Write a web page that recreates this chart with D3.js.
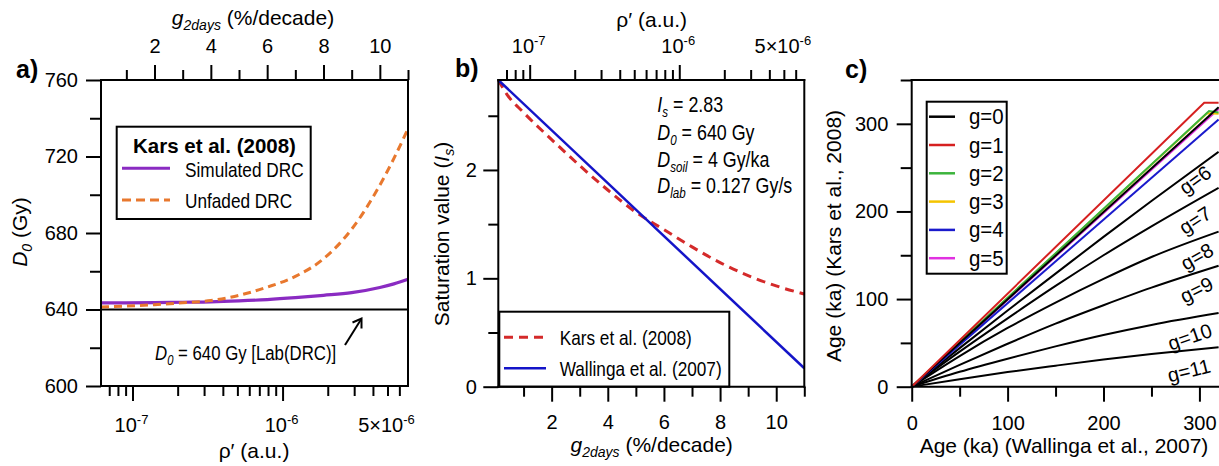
<!DOCTYPE html>
<html><head><meta charset="utf-8">
<script src="https://cdn.jsdelivr.net/npm/d3@7"></script>
<style>
body{margin:0;background:#fff}
svg{display:block}
text{font-family:"Liberation Sans",Arial,Helvetica,sans-serif;fill:#000}
</style>
</head><body>
<svg id="chart" width="1219" height="466"></svg>
<script>
// ---------------- DATA ----------------
const gDomain = [0.1, 11];
const gMajor = [2, 4, 6, 8, 10];
const gMinor = [1, 3, 5, 7, 9, 11];
const rhoDomain = [6.17e-8, 6.85e-6];
const rhoMajor = [1e-7, 1e-6];
const rhoMinor = [7e-8, 8e-8, 9e-8, 2e-7, 3e-7, 4e-7, 5e-7, 6e-7, 7e-7, 8e-7, 9e-7, 2e-6, 3e-6, 4e-6, 5e-6, 6e-6];
const rhoLabelValues = [1e-7, 1e-6, 5e-6];
const rhoLabelBase = ["10", "10", "5\u00D710"];
const rhoLabelExp = ["-7", "-6", "-6"];

// panel a
const aYDomain = [600, 760];
const aYMajor = [600, 640, 680, 720, 760];
const aYMinor = [620, 660, 700, 740];
const aG = [0.1, 1, 2, 3, 4, 5, 6, 7, 8, 9, 10, 10.5, 11];
const aSimulated = [643.5, 643.5, 643.6, 643.8, 644.0, 644.5, 645.2, 646.2, 647.4, 648.8, 651.5, 653.4, 655.8];
const aUnfaded = [641.3, 641.8, 642.5, 643.5, 644.7, 647.4, 651.7, 657.3, 666.5, 682, 705, 719, 734.5];
const labD0 = 640;

// panel b
const bYDomain = [0, 2.83];
const bYMajor = [0, 1, 2];
const bYMinor = [0.5, 1.5, 2.5];
const bG = [0.1, 0.4, 1, 2, 3, 4, 5, 6, 7, 8, 9, 10, 11];
const bKars = [2.83, 2.70, 2.53, 2.28, 2.04, 1.815, 1.61, 1.45, 1.29, 1.145, 1.025, 0.93, 0.855];
const bWallG = [0.1, 11];
const bWallinga = [2.83, 0.17];

// panel c
const cXDomain = [0, 320];
const cYDomain = [0, 350];
const cMajor = [0, 100, 200, 300];
const cXMinor = [50, 150, 250];
const cYMinor = [50, 150, 250, 350];
const cAgeW = [0, 50, 100, 150, 200, 250, 320];
const cG6 = [0, 44, 87, 129, 171, 212, 268];
const cG7 = [0, 40, 78, 115, 150, 183, 227];
const cG8 = [0, 35, 67, 96, 123, 148, 177];
const cG9 = [0, 25, 49, 72, 93, 113, 138];
const cG10 = [0, 17, 32, 46, 59, 70.5, 84];
const cG11 = [0, 8.6, 16.7, 24, 31, 37.3, 45];
const cG0X = [0, 320], cG0 = [0, 319];
const cG1X = [0, 305, 320], cG1 = [0, 324, 324];
const cG2X = [0, 310, 320], cG2 = [0, 314.6, 313];
const cG3X = [0, 308, 320], cG3 = [0, 312, 311.5];
const cG4X = [0, 320], cG4 = [0, 305];
const cG5X = [0, 320], cG5 = [0, 317];
const cLegendNames = ["g=0", "g=1", "g=2", "g=3", "g=4", "g=5"];
const cLegendColors = ["#000000", "#d62020", "#3cb43c", "#f5c400", "#1a1acc", "#e030e0"];
const cLabelNames = ["g=6", "g=7", "g=8", "g=9", "g=10", "g=11"];
const cLabelX = [295.5, 295.5, 297.5, 297, 290, 289];
const cLabelY = [236, 190, 148.5, 110.5, 57, 18.5];
const cLabelAngle = [-36, -33, -30, -27, -19, -14];

// ---------------- LAYOUT ----------------
const FONT = '"Liberation Sans", Arial, Helvetica, sans-serif';
const A = {x0: 101, x1: 408, y0: 80, y1: 386};
const B = {x0: 498.3, x1: 804.3, y0: 80, y1: 386.7};
const C = {x0: 911.7, x1: 1218.6, y0: 80, y1: 386.7};

const svg = d3.select("#chart");
svg.append("rect").attr("width", 1219).attr("height", 466).attr("fill", "#fff");

function rich(parent, x, y, parts, o = {}) {
  let tr = `translate(${x},${y})`;
  if (o.rotate) tr += ` rotate(${o.rotate})`;
  if (o.sx) tr += ` scale(${o.sx},1)`;
  const g = parent.append("g").attr("transform", tr);
  const size = o.size || 21;
  const t = g.append("text").attr("x", 0).attr("y", 0)
    .attr("text-anchor", o.anchor || "start")
    .style("font-size", size + "px");
  if (o.bold) t.style("font-weight", "bold");
  if (o.baseline) t.attr("dominant-baseline", o.baseline);
  let shift = 0;
  parts.forEach(p => {
    const ts = t.append("tspan").text(p.t);
    const target = p.sub ? (o.subDy || 5) : p.sup ? -(o.supDy || 8) : 0;
    ts.attr("dy", target - shift);
    shift = target;
    if (p.sub || p.sup) ts.style("font-size", (p.size || Math.round(size * 0.64)) + "px");
    if (p.i) ts.style("font-style", "italic");
  });
  return t;
}

function drawAxis(parent, transform, axisFn, scale, vals, size, labels, pad) {
  const ax = axisFn(scale).tickValues(vals).tickSize(size).tickPadding(pad || 8)
    .tickFormat(labels ? d3.format("") : () => "");
  const g = parent.append("g").attr("transform", transform).call(ax);
  g.attr("font-family", null).attr("font-size", null);
  g.select(".domain").remove();
  g.selectAll(".tick line").attr("stroke", "#000").attr("stroke-width", 2);
  g.selectAll(".tick text").style("font-size", "20px").style("font-family", FONT).attr("fill", "#000");
  return g;
}

function rhoLabels(parent, scale, yBase) {
  rhoLabelValues.forEach((v, i) => {
    rich(parent, scale(v) - 1, yBase, [{t: rhoLabelBase[i]}, {t: rhoLabelExp[i], sup: true, size: 13}],
      {size: 20, anchor: "middle", supDy: 8});
  });
}

function frame(p, sides) {
  const g = svg.append("g").attr("stroke", "#000").attr("stroke-width", 2).attr("fill", "none");
  if (sides.includes("t")) g.append("line").attr("x1", p.x0 - 1).attr("x2", p.x1 + 1).attr("y1", p.y0).attr("y2", p.y0);
  if (sides.includes("b")) g.append("line").attr("x1", p.x0 - 1).attr("x2", p.x1 + 1).attr("y1", p.y1).attr("y2", p.y1);
  if (sides.includes("l")) g.append("line").attr("x1", p.x0).attr("x2", p.x0).attr("y1", p.y0 - 1).attr("y2", p.y1 + 1);
  if (sides.includes("r")) g.append("line").attr("x1", p.x1).attr("x2", p.x1).attr("y1", p.y0 - 1).attr("y2", p.y1 + 1);
}

// ================= PANEL A =================
{
  const xg = d3.scaleLinear().domain(gDomain).range([A.x0, A.x1]);
  const xr = d3.scaleLog().domain(rhoDomain).range([A.x0, A.x1]);
  const y = d3.scaleLinear().domain(aYDomain).range([A.y1, A.y0]);
  const pa = svg.append("g");

  pa.append("line").attr("x1", A.x0).attr("x2", A.x1).attr("y1", y(labD0)).attr("y2", y(labD0))
    .attr("stroke", "#000").attr("stroke-width", 2);

  const line = d3.line().x(d => xg(d[0])).y(d => y(d[1])).curve(d3.curveMonotoneX);
  pa.append("path").datum(aG.map((g, i) => [g, aSimulated[i]])).attr("d", line)
    .attr("fill", "none").attr("stroke", "#8a2bc2").attr("stroke-width", 3.2);
  pa.append("path").datum(aG.map((g, i) => [g, aUnfaded[i]])).attr("d", line)
    .attr("fill", "none").attr("stroke", "#e8782e").attr("stroke-width", 3).attr("stroke-dasharray", "8,5");

  frame(A, "tblr");
  drawAxis(svg, `translate(0,${A.y0})`, d3.axisTop, xg, gMinor, 10, false);
  drawAxis(svg, `translate(0,${A.y0})`, d3.axisTop, xg, gMajor, 15, true, 12);
  drawAxis(svg, `translate(0,${A.y1})`, d3.axisBottom, xr, rhoMinor, 10, false);
  drawAxis(svg, `translate(0,${A.y1})`, d3.axisBottom, xr, rhoMajor, 15, false);
  rhoLabels(svg, xr, 431.5);
  drawAxis(svg, `translate(${A.x0},0)`, d3.axisLeft, y, aYMinor, 11, false);
  drawAxis(svg, `translate(${A.x0},0)`, d3.axisLeft, y, aYMajor, 15, true, 8);

  rich(svg, 253, 25, [{t: "g", i: true}, {t: "2days", i: true, sub: true, size: 14}, {t: " (%/decade)"}], {anchor: "middle", size: 21, subDy: 5});
  rich(svg, 254, 458, [{t: "\u03C1\u2032 (a.u.)"}], {anchor: "middle", size: 21});
  rich(svg, 27, 232, [{t: "D", i: true}, {t: "0", i: true, sub: true, size: 14}, {t: " (Gy)"}], {anchor: "middle", size: 21, rotate: -90});
  rich(svg, 16, 78, [{t: "a)"}], {size: 25, bold: true});

  svg.append("rect").attr("x", 116.7).attr("y", 126.7).attr("width", 194).attr("height", 92.3)
    .attr("fill", "#fff").attr("stroke", "#000").attr("stroke-width", 2);
  rich(svg, 133, 152.5, [{t: "Kars et al. (2008)"}], {size: 20.5, bold: true});
  svg.append("line").attr("x1", 122).attr("x2", 170).attr("y1", 168.3).attr("y2", 168.3)
    .attr("stroke", "#8a2bc2").attr("stroke-width", 3);
  rich(svg, 185, 176.5, [{t: "Simulated DRC"}], {size: 21, sx: 0.82});
  svg.append("line").attr("x1", 122).attr("x2", 170).attr("y1", 200).attr("y2", 200)
    .attr("stroke", "#e8782e").attr("stroke-width", 3).attr("stroke-dasharray", "9,5");
  rich(svg, 185, 208.3, [{t: "Unfaded DRC"}], {size: 21, sx: 0.82});

  rich(svg, 155, 360, [{t: "D", i: true}, {t: "0", i: true, sub: true, size: 14}, {t: " = 640 Gy [Lab(DRC)]"}], {size: 21, sx: 0.8});
  svg.append("line").attr("x1", 345).attr("y1", 345).attr("x2", 361).attr("y2", 319.5)
    .attr("stroke", "#000").attr("stroke-width", 2);
  svg.append("path").attr("d", "M352.5,322.5 L361.5,318.5 L361.5,328.5")
    .attr("fill", "none").attr("stroke", "#000").attr("stroke-width", 2);
}

// ================= PANEL B =================
{
  const xg = d3.scaleLinear().domain(gDomain).range([B.x0, B.x1]);
  const xr = d3.scaleLog().domain(rhoDomain).range([B.x0, B.x1]);
  const y = d3.scaleLinear().domain(bYDomain).range([B.y1, B.y0]);
  const pb = svg.append("g");
  const line = d3.line().x(d => xg(d[0])).y(d => y(d[1])).curve(d3.curveMonotoneX);
  pb.append("path").datum(bG.map((g, i) => [g, bKars[i]])).attr("d", line)
    .attr("fill", "none").attr("stroke", "#d42a2a").attr("stroke-width", 3).attr("stroke-dasharray", "9,6");
  pb.append("path").datum(bWallG.map((g, i) => [g, bWallinga[i]])).attr("d", line)
    .attr("fill", "none").attr("stroke", "#1414c8").attr("stroke-width", 2.5);

  svg.append("rect").attr("x", 499.3).attr("y", 311.7).attr("width", 230).attr("height", 75)
    .attr("fill", "#fff").attr("stroke", "#000").attr("stroke-width", 2);
  svg.append("line").attr("x1", 504).attr("x2", 546).attr("y1", 337.3).attr("y2", 337.3)
    .attr("stroke", "#d42a2a").attr("stroke-width", 3).attr("stroke-dasharray", "9,6");
  rich(svg, 559.7, 345, [{t: "Kars et al. (2008)"}], {size: 21, sx: 0.82});
  svg.append("line").attr("x1", 504).attr("x2", 546).attr("y1", 368.3).attr("y2", 368.3)
    .attr("stroke", "#1414c8").attr("stroke-width", 2.5);
  rich(svg, 559.7, 375.5, [{t: "Wallinga et al. (2007)"}], {size: 21, sx: 0.82});

  frame(B, "tblr");
  drawAxis(svg, `translate(0,${B.y1})`, d3.axisBottom, xg, gMinor, 10, false);
  drawAxis(svg, `translate(0,${B.y1})`, d3.axisBottom, xg, gMajor, 15, true, 13.5);
  drawAxis(svg, `translate(0,${B.y0})`, d3.axisTop, xr, rhoMinor, 10, false);
  drawAxis(svg, `translate(0,${B.y0})`, d3.axisTop, xr, rhoMajor, 15, false);
  rhoLabels(svg, xr, 53.3);
  drawAxis(svg, `translate(${B.x0},0)`, d3.axisLeft, y, bYMinor, 10, false);
  drawAxis(svg, `translate(${B.x0},0)`, d3.axisLeft, y, bYMajor, 15, true, 6.5);

  rich(svg, 651.7, 451.7, [{t: "g", i: true}, {t: "2days", i: true, sub: true, size: 14}, {t: " (%/decade)"}], {anchor: "middle", size: 21});
  rich(svg, 651.7, 26.7, [{t: "\u03C1\u2032 (a.u.)"}], {anchor: "middle", size: 21});
  rich(svg, 449, 234, [{t: "Saturation value ("}, {t: "I", i: true}, {t: "s", i: true, sub: true, size: 14}, {t: ")"}], {anchor: "middle", size: 21, rotate: -90});
  rich(svg, 455, 77.3, [{t: "b)"}], {size: 25, bold: true});

  const ann = [
    [{t: "I", i: true}, {t: "s", i: true, sub: true, size: 14}, {t: " = 2.83"}],
    [{t: "D", i: true}, {t: "0", i: true, sub: true, size: 14}, {t: " = 640 Gy"}],
    [{t: "D", i: true}, {t: "soil", i: true, sub: true, size: 14}, {t: " = 4 Gy/ka"}],
    [{t: "D", i: true}, {t: "lab", i: true, sub: true, size: 14}, {t: " = 0.127 Gy/s"}]
  ];
  const annY = [111.7, 139.5, 166.7, 193.3];
  ann.forEach((p, i) => rich(svg, 657.3, annY[i], p, {size: 21.5, sx: 0.83, subDy: 5}));
}

// ================= PANEL C =================
{
  const x = d3.scaleLinear().domain(cXDomain).range([C.x0, C.x1]);
  const y = d3.scaleLinear().domain(cYDomain).range([C.y1, C.y0]);
  const pc = svg.append("g");
  const curved = d3.line().x(d => x(d[0])).y(d => y(d[1])).curve(d3.curveMonotoneX);
  const straight = d3.line().x(d => x(d[0])).y(d => y(d[1]));
  [cG6, cG7, cG8, cG9, cG10, cG11].forEach(arr => {
    pc.append("path").datum(cAgeW.map((a, i) => [a, arr[i]])).attr("d", curved)
      .attr("fill", "none").attr("stroke", "#000").attr("stroke-width", 2);
  });
  const bunch = [
    [cG5X, cG5, cLegendColors[5]],
    [cG3X, cG3, cLegendColors[3]],
    [cG2X, cG2, cLegendColors[2]],
    [cG4X, cG4, cLegendColors[4]],
    [cG0X, cG0, cLegendColors[0]],
    [cG1X, cG1, cLegendColors[1]]
  ];
  bunch.forEach(([xs, ys, col]) => {
    pc.append("path").datum(xs.map((a, i) => [a, ys[i]])).attr("d", straight)
      .attr("fill", "none").attr("stroke", col).attr("stroke-width", 2);
  });

  cLabelNames.forEach((n, i) => {
    rich(svg, x(cLabelX[i]), y(cLabelY[i]), [{t: n}], {size: 20, anchor: "middle", rotate: cLabelAngle[i], baseline: "central"});
  });

  frame(C, "tbl");
  drawAxis(svg, `translate(0,${C.y1})`, d3.axisBottom, x, cXMinor, 10, false);
  drawAxis(svg, `translate(0,${C.y1})`, d3.axisBottom, x, cMajor, 15, true, 14);
  drawAxis(svg, `translate(${C.x0},0)`, d3.axisLeft, y, cYMinor, 11, false);
  drawAxis(svg, `translate(${C.x0},0)`, d3.axisLeft, y, cMajor, 15, true, 8.4);

  svg.append("rect").attr("x", 926.7).attr("y", 101.7).attr("width", 80).attr("height", 172)
    .attr("fill", "#fff").attr("stroke", "#000").attr("stroke-width", 2);
  cLegendNames.forEach((n, i) => {
    const ly = 116.7 + i * 28.3;
    svg.append("line").attr("x1", 929).attr("x2", 955).attr("y1", ly).attr("y2", ly)
      .attr("stroke", cLegendColors[i]).attr("stroke-width", 2.5);
    rich(svg, 969, ly + 7.5, [{t: n}], {size: 22, sx: 0.93});
  });

  rich(svg, 1064, 453.3, [{t: "Age (ka) (Wallinga et al., 2007)"}], {anchor: "middle", size: 21});
  rich(svg, 841, 236, [{t: "Age (ka) (Kars et al., 2008)"}], {anchor: "middle", size: 21, rotate: -90});
  rich(svg, 845, 78, [{t: "c)"}], {size: 25, bold: true});
}
</script>
</body></html>
